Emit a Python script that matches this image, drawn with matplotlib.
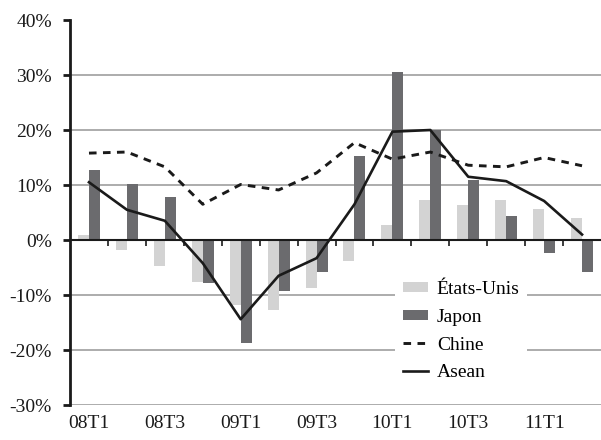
import numpy as np
import matplotlib.pyplot as plt

plt.rcParams['font.family'] = ['Liberation Serif', 'DejaVu Serif']

quarters = ['08T1', '08T2', '08T3', '08T4', '09T1', '09T2', '09T3', '09T4',
            '10T1', '10T2', '10T3', '10T4', '11T1', '11T2']
etats_unis = [0.9, -1.8, -4.7, -7.6, -11.8, -12.7, -8.7, -3.9,
              2.7, 7.3, 6.4, 7.3, 5.6, 4.0]
japon = [12.7, 10.2, 7.9, -7.8, -18.7, -9.2, -5.8, 15.2,
         30.6, 20.0, 10.9, 4.4, -2.3, -5.9]
chine = [15.8, 16.0, 13.3, 6.5, 10.1, 9.1, 12.2, 17.7,
         14.7, 16.0, 13.6, 13.3, 15.0, 13.5]
asean = [10.5, 5.5, 3.5, -4.2, -14.4, -6.5, -3.3, 6.5,
         19.7, 20.0, 11.5, 10.7, 7.1, 1.0]
yticks = [-30, -20, -10, 0, 10, 20, 30, 40]

x = np.arange(len(quarters))
w = 0.29

fig = plt.figure(figsize=(6.01, 4.40), dpi=100)
ax = fig.add_axes([0.1165, 0.0795, 0.8835, 0.875])

for v in yticks[:-1]:
    ax.axhline(v, color='#a6a6a6', lw=1.3, zorder=0)

b1 = ax.bar(x - w / 2, etats_unis, w, color='#d3d3d3', label='États-Unis', zorder=2)
b2 = ax.bar(x + w / 2, japon, w, color='#6b6b6e', label='Japon', zorder=2)
l1, = ax.plot(x, chine, color='#1a1a1a', lw=2.1, ls=(0, (2.6, 2.2)), label='Chine', zorder=3)
l2, = ax.plot(x, asean, color='#1a1a1a', lw=1.9, label='Asean', zorder=3)

ax.set_xlim(-0.5, len(quarters) - 0.5)
ax.set_ylim(-30, 40)

# y axis
ax.spines['left'].set_linewidth(2)
ax.spines['left'].set_color('#1a1a1a')
ax.spines['right'].set_visible(False)
ax.spines['top'].set_visible(False)
ax.set_yticks(yticks)
ax.set_yticklabels(['%d%%' % v for v in yticks])
ax.tick_params(axis='y', direction='out', length=5, width=2, color='#1a1a1a',
               labelsize=14, pad=8, labelcolor='#1a1a1a')

# zero line with category ticks
ax.spines['bottom'].set_position(('data', 0))
ax.spines['bottom'].set_linewidth(1.5)
ax.spines['bottom'].set_color('#1a1a1a')
ax.set_xticks(x[:-1] + 0.5)
ax.set_xticklabels([])
ax.tick_params(axis='x', direction='out', length=4, width=1.2, color='#1a1a1a')

# quarter labels at the bottom
sec = ax.secondary_xaxis('bottom')
sec.set_xticks(x[::2])
sec.set_xticklabels(quarters[::2])
sec.tick_params(length=0, labelsize=14, pad=7, labelcolor='#1a1a1a')
sec.spines['bottom'].set_visible(False)

leg = ax.legend([b1, b2, l1, l2], ['États-Unis', 'Japon', 'Chine', 'Asean'],
                loc='upper left', bbox_to_anchor=(0.612, 0.342), fontsize=14,
                frameon=True, framealpha=1, edgecolor='none', fancybox=False,
                handlelength=1.3, handleheight=0.45, labelspacing=0.55,
                handletextpad=0.45, borderpad=0.4, borderaxespad=0)
leg.set_zorder(5)

fig.savefig('out.png', dpi=100)
